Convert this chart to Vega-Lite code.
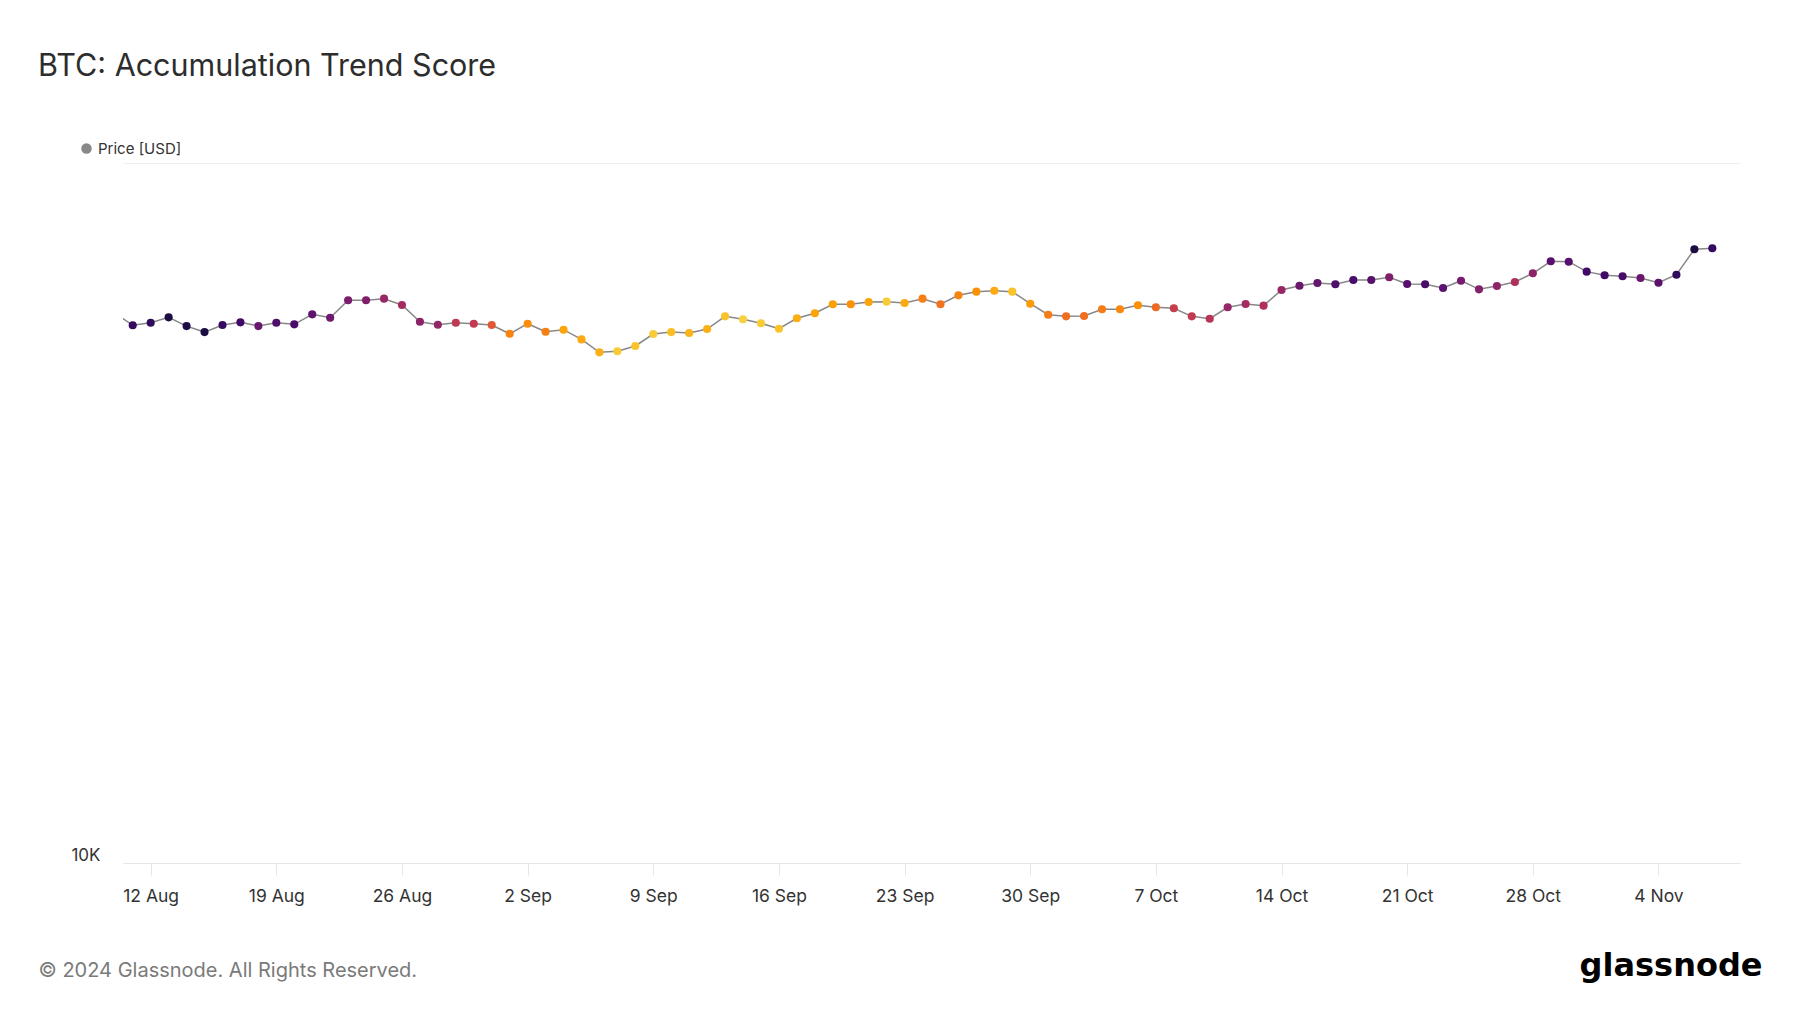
{
  "$schema": "https://vega.github.io/schema/vega-lite/v6.json",
  "width": 1617,
  "height": 700,
  "autosize": {"type": "none"},
  "padding": {"left": 123, "top": 163, "right": 60, "bottom": 150},
  "background": "white",
  "config": {"view": {"stroke": null}, "font": "Inter"},
  "title": {"text": "BTC: Accumulation Trend Score", "anchor": "start", "frame": "group", "orient": "top", "offset": 0, "dx": -85, "dy": -35, "baseline": "alphabetic", "font": "Inter", "fontSize": 30.5, "fontWeight": 400, "color": "#2d2d2d"},
  "data": {"values": [
    {"date": "2024-08-10", "price": 61060, "score": 0.15},
    {"date": "2024-08-11", "price": 58640, "score": 0.17},
    {"date": "2024-08-12", "price": 59130, "score": 0.16},
    {"date": "2024-08-13", "price": 60190, "score": 0.11},
    {"date": "2024-08-14", "price": 58480, "score": 0.12},
    {"date": "2024-08-15", "price": 57340, "score": 0.11},
    {"date": "2024-08-16", "price": 58680, "score": 0.17},
    {"date": "2024-08-17", "price": 59200, "score": 0.2},
    {"date": "2024-08-18", "price": 58480, "score": 0.3},
    {"date": "2024-08-19", "price": 59130, "score": 0.23},
    {"date": "2024-08-20", "price": 58820, "score": 0.22},
    {"date": "2024-08-21", "price": 60790, "score": 0.27},
    {"date": "2024-08-22", "price": 60110, "score": 0.31},
    {"date": "2024-08-23", "price": 63660, "score": 0.34},
    {"date": "2024-08-24", "price": 63660, "score": 0.35},
    {"date": "2024-08-25", "price": 64000, "score": 0.41},
    {"date": "2024-08-26", "price": 62690, "score": 0.44},
    {"date": "2024-08-27", "price": 59320, "score": 0.38},
    {"date": "2024-08-28", "price": 58750, "score": 0.4},
    {"date": "2024-08-29", "price": 59130, "score": 0.51},
    {"date": "2024-08-30", "price": 58940, "score": 0.52},
    {"date": "2024-08-31", "price": 58680, "score": 0.62},
    {"date": "2024-09-01", "price": 57020, "score": 0.73},
    {"date": "2024-09-02", "price": 58940, "score": 0.75},
    {"date": "2024-09-03", "price": 57410, "score": 0.72},
    {"date": "2024-09-04", "price": 57790, "score": 0.8},
    {"date": "2024-09-05", "price": 55980, "score": 0.81},
    {"date": "2024-09-06", "price": 53640, "score": 0.82},
    {"date": "2024-09-07", "price": 53830, "score": 0.88},
    {"date": "2024-09-08", "price": 54780, "score": 0.86},
    {"date": "2024-09-09", "price": 56970, "score": 0.88},
    {"date": "2024-09-10", "price": 57340, "score": 0.85},
    {"date": "2024-09-11", "price": 57160, "score": 0.83},
    {"date": "2024-09-12", "price": 57920, "score": 0.82},
    {"date": "2024-09-13", "price": 60390, "score": 0.86},
    {"date": "2024-09-14", "price": 59800, "score": 0.89},
    {"date": "2024-09-15", "price": 59020, "score": 0.88},
    {"date": "2024-09-16", "price": 57980, "score": 0.86},
    {"date": "2024-09-17", "price": 60000, "score": 0.82},
    {"date": "2024-09-18", "price": 61000, "score": 0.8},
    {"date": "2024-09-19", "price": 62840, "score": 0.79},
    {"date": "2024-09-20", "price": 62840, "score": 0.76},
    {"date": "2024-09-21", "price": 63310, "score": 0.8},
    {"date": "2024-09-22", "price": 63380, "score": 0.88},
    {"date": "2024-09-23", "price": 63100, "score": 0.81},
    {"date": "2024-09-24", "price": 64000, "score": 0.72},
    {"date": "2024-09-25", "price": 62840, "score": 0.69},
    {"date": "2024-09-26", "price": 64710, "score": 0.73},
    {"date": "2024-09-27", "price": 65490, "score": 0.76},
    {"date": "2024-09-28", "price": 65700, "score": 0.81},
    {"date": "2024-09-29", "price": 65490, "score": 0.86},
    {"date": "2024-09-30", "price": 62950, "score": 0.78},
    {"date": "2024-10-01", "price": 60710, "score": 0.71},
    {"date": "2024-10-02", "price": 60390, "score": 0.68},
    {"date": "2024-10-03", "price": 60450, "score": 0.68},
    {"date": "2024-10-04", "price": 61800, "score": 0.71},
    {"date": "2024-10-05", "price": 61800, "score": 0.74},
    {"date": "2024-10-06", "price": 62630, "score": 0.76},
    {"date": "2024-10-07", "price": 62220, "score": 0.67},
    {"date": "2024-10-08", "price": 62020, "score": 0.53},
    {"date": "2024-10-09", "price": 60390, "score": 0.52},
    {"date": "2024-10-10", "price": 59920, "score": 0.49},
    {"date": "2024-10-11", "price": 62220, "score": 0.41},
    {"date": "2024-10-12", "price": 62900, "score": 0.44},
    {"date": "2024-10-13", "price": 62550, "score": 0.47},
    {"date": "2024-10-14", "price": 65850, "score": 0.41},
    {"date": "2024-10-15", "price": 66790, "score": 0.3},
    {"date": "2024-10-16", "price": 67390, "score": 0.29},
    {"date": "2024-10-17", "price": 67100, "score": 0.23},
    {"date": "2024-10-18", "price": 68060, "score": 0.22},
    {"date": "2024-10-19", "price": 68060, "score": 0.26},
    {"date": "2024-10-20", "price": 68670, "score": 0.35},
    {"date": "2024-10-21", "price": 67170, "score": 0.25},
    {"date": "2024-10-22", "price": 67100, "score": 0.22},
    {"date": "2024-10-23", "price": 66300, "score": 0.27},
    {"date": "2024-10-24", "price": 67900, "score": 0.33},
    {"date": "2024-10-25", "price": 66000, "score": 0.36},
    {"date": "2024-10-26", "price": 66730, "score": 0.39},
    {"date": "2024-10-27", "price": 67610, "score": 0.47},
    {"date": "2024-10-28", "price": 69580, "score": 0.38},
    {"date": "2024-10-29", "price": 72380, "score": 0.26},
    {"date": "2024-10-30", "price": 72280, "score": 0.25},
    {"date": "2024-10-31", "price": 69950, "score": 0.2},
    {"date": "2024-11-01", "price": 69120, "score": 0.2},
    {"date": "2024-11-02", "price": 68900, "score": 0.22},
    {"date": "2024-11-03", "price": 68510, "score": 0.3},
    {"date": "2024-11-04", "price": 67450, "score": 0.26},
    {"date": "2024-11-05", "price": 69250, "score": 0.16},
    {"date": "2024-11-06", "price": 75290, "score": 0.11},
    {"date": "2024-11-07", "price": 75540, "score": 0.17}
  ]},
  "encoding": {
    "x": {
      "field": "date", "type": "temporal",
      "scale": {"type": "utc", "domain": [{"year": 2024, "month": 8, "date": 10, "hours": 11, "utc": true}, {"year": 2024, "month": 11, "date": 8, "hours": 13, "utc": true}]},
      "axis": {
        "values": [
          {"year": 2024, "month": 8, "date": 12, "utc": true},
          {"year": 2024, "month": 8, "date": 19, "utc": true},
          {"year": 2024, "month": 8, "date": 26, "utc": true},
          {"year": 2024, "month": 9, "date": 2, "utc": true},
          {"year": 2024, "month": 9, "date": 9, "utc": true},
          {"year": 2024, "month": 9, "date": 16, "utc": true},
          {"year": 2024, "month": 9, "date": 23, "utc": true},
          {"year": 2024, "month": 9, "date": 30, "utc": true},
          {"year": 2024, "month": 10, "date": 7, "utc": true},
          {"year": 2024, "month": 10, "date": 14, "utc": true},
          {"year": 2024, "month": 10, "date": 21, "utc": true},
          {"year": 2024, "month": 10, "date": 28, "utc": true},
          {"year": 2024, "month": 11, "date": 4, "utc": true}
        ],
        "labelExpr": "utcFormat(datum.value, '%-d %b')",
        "grid": false,
        "domain": true, "domainColor": "#e6e6e6", "domainWidth": 1,
        "ticks": true, "tickSize": 12, "tickColor": "#e6e6e6", "tickWidth": 1,
        "labelPadding": 12, "labelFont": "Inter", "labelFontSize": 17.5, "labelColor": "#333333", "labelFlush": false, "labelOverlap": false,
        "title": "© 2024 Glassnode. All Rights Reserved.",
        "titleX": -85, "titleY": 113, "titleAlign": "left", "titleAnchor": "start", "titleBaseline": "alphabetic",
        "titleFont": "Inter", "titleFontSize": 20, "titleFontWeight": "normal", "titleColor": "#7a7a7a"
      }
    },
    "y": {
      "field": "price", "type": "quantitative",
      "scale": {"type": "log", "domain": [10000, 100000], "nice": false},
      "axis": {
        "values": [10000, 100000],
        "labelExpr": "datum.value == 10000 ? '10K' : ''",
        "grid": true, "gridColor": "#efefef", "gridWidth": 1,
        "domain": false, "ticks": false,
        "labelPadding": 23, "labelFont": "Inter", "labelFontSize": 17, "labelColor": "#333333",
        "labelBaseline": "alphabetic", "labelOffset": -3,
        "title": "glassnode",
        "titleX": 1639, "titleY": 812, "titleAngle": 0, "titleAlign": "right", "titleBaseline": "alphabetic", "titleAnchor": "start",
        "titleFont": "DejaVu Sans", "titleFontSize": 32, "titleFontWeight": "bold", "titleColor": "#000000"
      }
    }
  },
  "layer": [
    {
      "mark": {"type": "line", "clip": true, "strokeWidth": 1.5},
      "encoding": {
        "color": {
          "datum": "Price [USD]",
          "scale": {"range": ["#888888"]},
          "legend": {"orient": "none", "legendX": -44, "legendY": -22, "title": null, "symbolType": "circle", "symbolSize": 110, "symbolFillColor": "#888888", "symbolStrokeWidth": 0, "labelFont": "Inter", "labelFontSize": 15, "labelColor": "#333333", "padding": 0}
        }
      }
    },
    {
      "mark": {"type": "circle", "clip": true, "size": 66, "opacity": 1},
      "encoding": {
        "color": {"field": "score", "type": "quantitative", "scale": {"scheme": "inferno", "domain": [0, 1]}, "legend": null}
      }
    }
  ],
  "resolve": {"scale": {"color": "independent"}, "legend": {"color": "independent"}}
}
